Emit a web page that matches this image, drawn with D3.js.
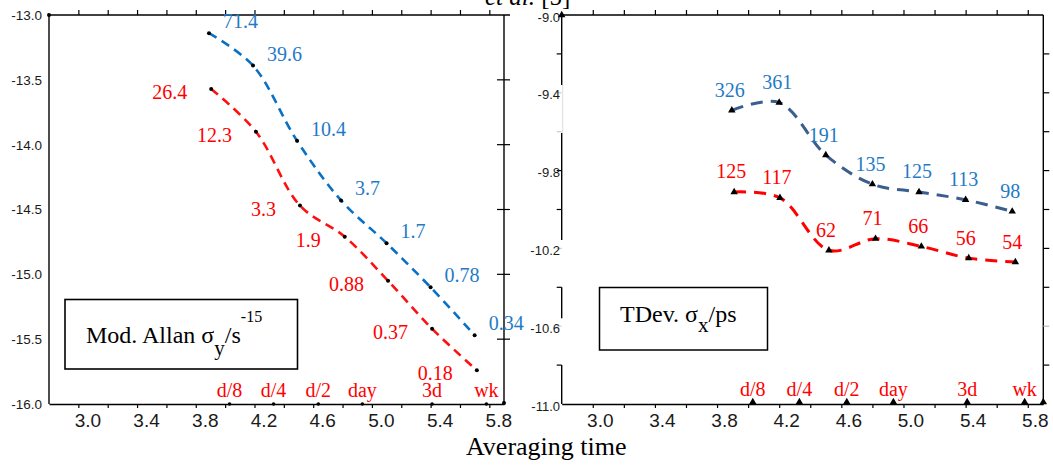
<!DOCTYPE html>
<html><head><meta charset="utf-8">
<script src="https://cdn.jsdelivr.net/npm/d3@7"></script>
<style>body{margin:0;background:#fff} svg{display:block}</style>
</head><body><svg id="c" width="1053" height="466"></svg>
<script>
// ---- data (log10 values) ----
const tauBlueL = [3.89, 4.19, 4.49, 4.79, 5.10, 5.40, 5.70];
const tauRedL  = [3.905, 4.21, 4.51, 4.815, 5.11, 5.41, 5.715];
const tauBlueR = [3.895, 4.20, 4.50, 4.80, 5.10, 5.40, 5.70];
const tauRedR  = [3.91, 4.205, 4.52, 4.82, 5.115, 5.42, 5.72];
const madevBlue = [-13.14, -13.39, -13.97, -14.43, -14.76, -15.10, -15.47];
const madevBlueLabels = ["71.4","39.6","10.4","3.7","1.7","0.78","0.34"];
const madevRed = [-13.57, -13.90, -14.47, -14.71, -15.05, -15.42, -15.74];
const madevRedLabels = ["26.4","12.3","3.3","1.9","0.88","0.37","0.18"];
const tdevBlue = [-9.49, -9.45, -9.72, -9.87, -9.91, -9.95, -10.01];
const tdevBlueLabels = ["326","361","191","135","125","113","98"];
const tdevRed = [-9.91, -9.94, -10.21, -10.15, -10.19, -10.25, -10.27];
const tdevRedLabels = ["125","117","62","71","66","56","54"];
const markerLabels = ["d/8","d/4","d/2","day","3d","wk"];
const markerTau = [4.03, 4.33, 4.635, 4.935, 5.41, 5.78];
const xTicks = [3.0,3.2,3.4,3.6,3.8,4.0,4.2,4.4,4.6,4.8,5.0,5.2,5.4,5.6,5.8];
const xTickLabels = [3.0,3.4,3.8,4.2,4.6,5.0,5.4,5.8];
const leftYTicks = [-13.0,-13.5,-14.0,-14.5,-15.0,-15.5,-16.0];
const rightYTickLabels = [-9.0,-9.4,-9.8,-10.2,-10.6,-11.0];
const rightYMinor = [-9.2,-9.4,-9.6,-9.8,-10.0,-10.2,-10.4,-10.6,-10.8];
// axis segments of the broken left axis of the right panel (data units)
const rightAxisSegments = [[-9.0,-9.36],[-9.607,-10.157],[-10.40,-10.559],[-10.80,-11.0]];
const rightAxisGrey = [[-9.36,-9.607]];

const svg = d3.select("#c");
const SANS = "'Liberation Sans', Arial, sans-serif";
const SERIF = "'Liberation Serif', 'Times New Roman', serif";
const BLUE_TXT = "#1f7bc6", RED = "#ff0000";

const xL = d3.scaleLinear().domain([2.8,5.9]).range([49,504]);
const yL = d3.scaleLinear().domain([-16,-13]).range([404,15]);
const xR = d3.scaleLinear().domain([2.8,5.9]).range([561.7,1043.3]);
const yR = d3.scaleLinear().domain([-11,-9]).range([404,15]);

function xAxes(x, y, dx, topExtra){
  const labelSet = new Set(xTickLabels.map(d=>d.toFixed(1)));
  const gb = svg.append("g").attr("transform",`translate(0,${y.range()[0]})`)
    .call(d3.axisBottom(x).tickValues(xTicks).tickSize(4).tickSizeOuter(0)
      .tickFormat(d=>labelSet.has(d.toFixed(1))?d.toFixed(1):""));
  gb.select(".domain").attr("stroke","#000").attr("stroke-width",1.4);
  gb.selectAll(".tick line").attr("stroke","#000").attr("stroke-width",1.2);
  gb.selectAll(".tick text").attr("y",10).attr("dx",dx)
    .style("font-family",SANS).style("font-size","19px").attr("fill","#1a1a1a");
  const gt = svg.append("g").attr("transform",`translate(0,${y.range()[1]})`)
    .call(d3.axisTop(x).tickValues(xTicks).tickSize(5).tickSizeOuter(0).tickFormat(""));
  gt.select(".domain").attr("stroke","#000").attr("stroke-width",1.4)
    .attr("d",`M${x.range()[0]},0H${x.range()[1]+topExtra}`);
  gt.selectAll(".tick line").attr("stroke","#000").attr("stroke-width",1.2);
}

// ---------- LEFT PANEL ----------
xAxes(xL, yL, 9, 6);
svg.append("line").attr("x1",xL.range()[0]).attr("x2",xL.range()[0])
  .attr("y1",yL.range()[1]).attr("y2",yL.range()[0]).attr("stroke","#000").attr("stroke-width",1.4);
svg.append("line").attr("x1",xL.range()[1]).attr("x2",xL.range()[1])
  .attr("y1",yL.range()[1]).attr("y2",yL.range()[0]).attr("stroke","#000").attr("stroke-width",1.4);
svg.append("g").selectAll("line").data(leftYTicks.slice(1,-1)).join("line")
  .attr("x1",xL.range()[1]-7).attr("x2",xL.range()[1]+6)
  .attr("y1",d=>yL(d)).attr("y2",d=>yL(d)).attr("stroke","#000").attr("stroke-width",1.2);
svg.append("g").selectAll("text").data(leftYTicks).join("text")
  .attr("x",42).attr("y",d=>yL(d)).attr("dy","0.36em").attr("text-anchor","end")
  .style("font-family",SANS).style("font-size","13.5px").attr("fill","#1a1a1a")
  .text(d=>d.toFixed(1));
// corner dots
svg.append("circle").attr("cx",xL.range()[0]).attr("cy",yL.range()[1]).attr("r",2).attr("fill","#000");
svg.append("circle").attr("cx",xL.range()[1]).attr("cy",yL.range()[0]-1).attr("r",2).attr("fill","#000");

const curve = d3.curveCatmullRom.alpha(0.5);
function series(x, y, taus, vals, color, width, dash, marker){
  const pts = taus.map((t,i)=>[x(t), y(vals[i])]);
  svg.append("path").attr("d", d3.line().curve(curve)(pts))
    .attr("fill","none").attr("stroke",color).attr("stroke-width",width)
    .attr("stroke-dasharray",dash);
  const g = svg.append("g");
  if(marker==="dot"){
    g.selectAll("circle").data(pts).join("circle")
      .attr("cx",d=>d[0]).attr("cy",d=>d[1]).attr("r",2).attr("fill","#000");
  } else {
    g.selectAll("path").data(pts).join("path")
      .attr("d", d3.symbol(d3.symbolTriangle, 24))
      .attr("transform",d=>`translate(${d[0]},${d[1]})`).attr("fill","#000");
  }
  return pts;
}
function labels(pts, texts, color, anchor, dx, dy){
  svg.append("g").selectAll("text").data(pts).join("text")
    .attr("x",d=>d[0]+dx).attr("y",d=>d[1]+dy).attr("text-anchor",anchor)
    .style("font-family",SERIF).style("font-size","20px").attr("fill",color)
    .text((d,i)=>texts[i]);
}

const pB = series(xL, yL, tauBlueL, madevBlue, "#0a70c4", 2.6, "9,6", "dot");
const pR = series(xL, yL, tauRedL, madevRed, "#ff1010", 2.6, "9,6", "dot");
labels(pB, madevBlueLabels, BLUE_TXT, "start", 14, -5);
labels(pR, madevRedLabels, RED, "end", -24, 10);

// bottom markers left
const mkL = markerTau.map(t=>[xL(t), yL.range()[0]]);
svg.append("g").selectAll("circle").data(mkL).join("circle")
  .attr("cx",d=>d[0]).attr("cy",d=>d[1]).attr("r",1.8).attr("fill","#000");
svg.append("g").selectAll("text").data(mkL).join("text")
  .attr("x",d=>d[0]).attr("y",d=>d[1]-7).attr("text-anchor","middle")
  .style("font-family",SERIF).style("font-size","20px").attr("fill",RED)
  .text((d,i)=>markerLabels[i]);

// legend box left
svg.append("rect").attr("x",65).attr("y",299.5).attr("width",232.5).attr("height",69.5)
  .attr("fill","#fff").attr("stroke","#000").attr("stroke-width",1.6);
const tl = svg.append("text").attr("x",86).attr("y",343)
  .style("font-family",SERIF).style("font-size","24px").attr("fill","#000");
tl.append("tspan").text("Mod. Allan σ");
tl.append("tspan").attr("dy",12).style("font-size","21px").text("y");
tl.append("tspan").attr("dy",-12).text("/s");
tl.append("tspan").attr("dy",-21).style("font-size","16px").text("-15");

// ---------- RIGHT PANEL ----------
xAxes(xR, yR, 7, 0);
const axG = svg.append("g");
axG.selectAll("line.seg").data(rightAxisSegments).join("line").attr("class","seg")
  .attr("x1",xR.range()[0]).attr("x2",xR.range()[0])
  .attr("y1",d=>yR(d[0])).attr("y2",d=>yR(d[1])).attr("stroke","#000").attr("stroke-width",1.4);
axG.selectAll("line.grey").data(rightAxisGrey).join("line").attr("class","grey")
  .attr("x1",xR.range()[0]+1).attr("x2",xR.range()[0]+1)
  .attr("y1",d=>yR(d[0])).attr("y2",d=>yR(d[1])).attr("stroke","#ddd").attr("stroke-width",1);
const inSeg = v => rightAxisSegments.some(s=>v<=s[0]+1e-9 && v>=s[1]-1e-9);
axG.selectAll("line.tk").data(rightYMinor).join("line").attr("class","tk")
  .attr("x1",xR.range()[0]-5).attr("x2",xR.range()[0])
  .attr("y1",d=>yR(d)).attr("y2",d=>yR(d))
  .attr("stroke",d=>inSeg(d)?"#000":"#ccc").attr("stroke-width",1.2);
svg.append("line").attr("x1",xR.range()[1]).attr("x2",xR.range()[1])
  .attr("y1",yR.range()[1]).attr("y2",yR.range()[0]).attr("stroke","#000").attr("stroke-width",1.4);
svg.append("g").selectAll("line").data(rightYMinor).join("line")
  .attr("x1",xR.range()[1]).attr("x2",xR.range()[1]+6)
  .attr("y1",d=>yR(d)).attr("y2",d=>yR(d))
  .attr("stroke",d=>Math.abs(d+10.6)<1e-6?"#bbb":"#000").attr("stroke-width",1.2);
svg.append("g").selectAll("text").data(rightYTickLabels).join("text")
  .attr("x",560).attr("y",d=>yR(d)+2).attr("dy","0.36em").attr("text-anchor","end")
  .style("font-family",SANS).style("font-size","13px").attr("fill","#1a1a1a")
  .text(d=>d.toFixed(1));
const tri = d3.symbol(d3.symbolTriangle, 24);
svg.append("path").attr("d",tri).attr("transform",`translate(${xR.range()[0]},${yR.range()[1]})`);
svg.append("path").attr("d",tri).attr("transform",`translate(${xR.range()[1]},${yR.range()[0]-2})`);

const qB = series(xR, yR, tauBlueR, tdevBlue, "#3a5e8e", 3, "12,8", "tri");
const qR = series(xR, yR, tauRedR, tdevRed, "#ff0000", 3, "12,8", "tri");
labels(qB, tdevBlueLabels, BLUE_TXT, "middle", -2, -13.5);
labels(qR, tdevRedLabels, RED, "middle", -3, -13.5);

const mkR = markerTau.map(t=>[xR(t), yR.range()[0]]);
svg.append("g").selectAll("path").data(mkR).join("path")
  .attr("d",tri).attr("transform",d=>`translate(${d[0]},${d[1]-2})`).attr("fill","#000");
svg.append("g").selectAll("text").data(mkR).join("text")
  .attr("x",d=>d[0]).attr("y",d=>d[1]-8).attr("text-anchor","middle")
  .style("font-family",SERIF).style("font-size","20px").attr("fill",RED)
  .text((d,i)=>markerLabels[i]);

// legend box right
svg.append("rect").attr("x",599.5).attr("y",287.5).attr("width",168).attr("height",62.5)
  .attr("fill","#fff").attr("stroke","#000").attr("stroke-width",1.5);
const tr = svg.append("text").attr("x",620).attr("y",321.7)
  .style("font-family",SERIF).style("font-size","24px").attr("fill","#000");
tr.append("tspan").text("TDev. σ");
tr.append("tspan").attr("dy",10).style("font-size","21px").text("x");
tr.append("tspan").attr("dy",-10).text("/ps");

// ---------- shared texts ----------
svg.append("text").attr("x",466).attr("y",455)
  .style("font-family",SERIF).style("font-size","26px").attr("fill","#000").text("Averaging time");
const ea = svg.append("text").attr("x",485).attr("y",5)
  .style("font-family",SERIF).style("font-size","25px").attr("fill","#000");
ea.append("tspan").style("font-style","italic").text("et al. ");
ea.append("tspan").text("[5]");
</script></body></html>
